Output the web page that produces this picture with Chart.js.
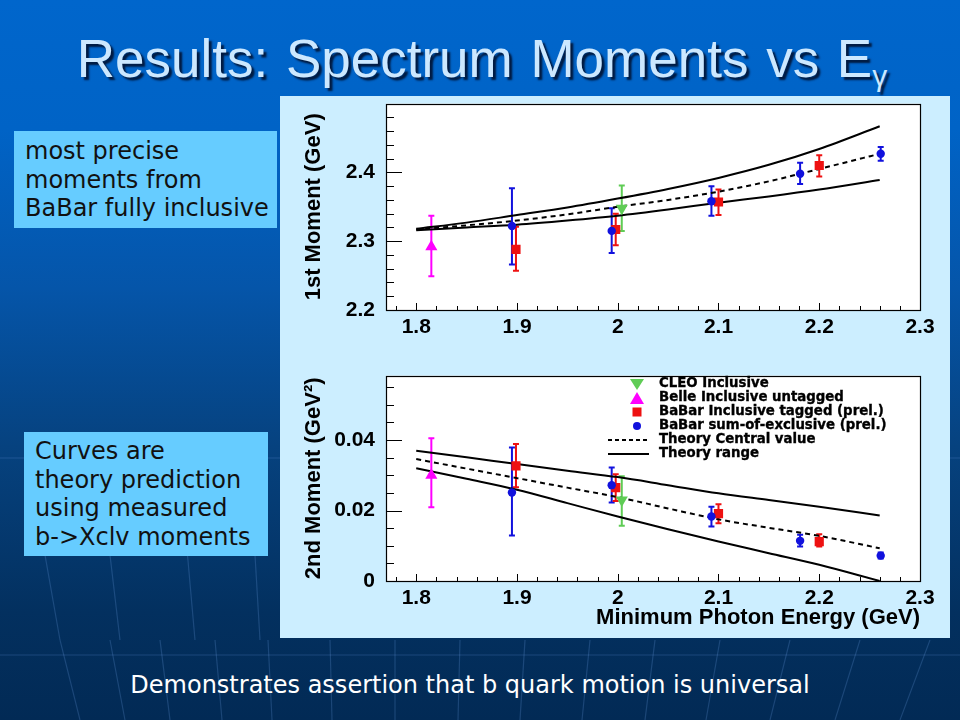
<!DOCTYPE html>
<html>
<head>
<meta charset="utf-8">
<script src="https://cdn.jsdelivr.net/npm/chart.js@4.4.1/dist/chart.umd.min.js"></script>
<style>
  html, body { margin:0; padding:0; }
  body { width:960px; height:720px; overflow:hidden; position:relative;
    background: linear-gradient(to bottom, #0066cc 0%, #0063c6 18%, #0555a9 40%, #06427f 62%, #03305f 85%, #022a55 100%);
    font-family: "Liberation Sans", Arial, sans-serif; }
  #bg { position:absolute; left:0; top:0; }
  #title { position:absolute; left:0; width:964px; top:28px; text-align:center; color:#cce8ff;
    font-family:"Liberation Sans", Arial, sans-serif; font-size:53px; white-space:nowrap; word-spacing:3px;
    text-shadow: 3px 3px 2px #001a40; }
  #title sub { font-size:30px; vertical-align:-9px; }
  #panel { position:absolute; left:280px; top:96px; width:670px; height:542px; background:#cceeff; }
  .box { position:absolute; background:#66ccff; color:#111; font-family:"DejaVu Sans", Verdana, sans-serif;
    font-size:24px; line-height:28.6px; white-space:nowrap; }
  #box1 { left:14px; top:131px; width:252px; height:97px; padding:0 0 0 11px; }
  #box1 div:first-child { margin-top:6px; }
  #box2 { left:24px; top:432px; width:233px; height:124px; padding:0 0 0 11px; }
  #box2 div:first-child { margin-top:5px; }
  #footer { position:absolute; left:0; width:940px; top:671px; text-align:center; color:#ffffff;
    font-family:"DejaVu Sans", Verdana, sans-serif; font-size:24px; white-space:nowrap; }
  canvas { position:absolute; }
  #c1 { left:280px; top:80px; }
  #c2 { left:280px; top:352px; }
  #legend { position:absolute; left:600px; top:376px; font-family:"DejaVu Sans", sans-serif; font-weight:bold;
    font-size:13.3px; color:#000; -webkit-text-stroke:0.35px #000; }
  .lg { position:absolute; left:0; height:14px; width:300px; white-space:nowrap; }
  .lg svg { position:absolute; left:0; top:0; }
  .lg span { position:absolute; left:59px; top:-2px; line-height:16px; }
</style>
</head>
<body>
<svg id="bg" width="960" height="720">
  <g stroke="rgba(120,170,235,0.22)" stroke-width="1.2" fill="none">
    <line x1="0" y1="458" x2="960" y2="458"/>
    <line x1="0" y1="655" x2="960" y2="655"/>
    <line x1="60" y1="640" x2="80" y2="720"/>
    <line x1="110" y1="640" x2="125" y2="720"/>
    <line x1="160" y1="640" x2="170" y2="720"/>
    <line x1="215" y1="640" x2="222" y2="720"/>
    <line x1="268" y1="640" x2="272" y2="720"/>
    <line x1="330" y1="640" x2="332" y2="720"/>
    <line x1="395" y1="640" x2="395" y2="720"/>
    <line x1="460" y1="640" x2="458" y2="720"/>
    <line x1="525" y1="640" x2="520" y2="720"/>
    <line x1="590" y1="640" x2="582" y2="720"/>
    <line x1="655" y1="640" x2="645" y2="720"/>
    <line x1="720" y1="640" x2="706" y2="720"/>
    <line x1="790" y1="640" x2="770" y2="720"/>
    <line x1="860" y1="640" x2="835" y2="720"/>
    <line x1="930" y1="640" x2="900" y2="720"/>
    <line x1="30" y1="470" x2="60" y2="640"/>
    <line x1="100" y1="470" x2="120" y2="640"/>
    <line x1="180" y1="470" x2="195" y2="640"/>
    <line x1="250" y1="470" x2="260" y2="640"/>
  </g>
</svg>
<div id="title">Results: Spectrum Moments vs E<sub>γ</sub></div>
<div id="panel"></div>
<div class="box" id="box1"><div>most precise</div><div>moments from</div><div>BaBar fully inclusive</div></div>
<div class="box" id="box2"><div>Curves are</div><div>theory prediction</div><div>using measured</div><div>b-&gt;Xclv moments</div></div>
<div id="footer">Demonstrates assertion that b quark motion is universal</div>
<canvas id="c1" width="670" height="270"></canvas>
<canvas id="c2" width="670" height="286"></canvas>
<div id="legend">
  <div class="lg" style="top:1px"><svg width="60" height="14"><polygon points="30,2 44,2 37,13" fill="#5fcc55"/></svg><span>CLEO Inclusive</span></div>
  <div class="lg" style="top:15px"><svg width="60" height="14"><polygon points="37,1 44,13 30,13" fill="#ff00ff"/></svg><span>Belle Inclusive untagged</span></div>
  <div class="lg" style="top:29px"><svg width="60" height="14"><rect x="32.5" y="2.5" width="9" height="9" fill="#ee1111"/></svg><span>BaBar Inclusive tagged (prel.)</span></div>
  <div class="lg" style="top:43px"><svg width="60" height="14"><circle cx="37" cy="7" r="4" fill="#1111dd"/></svg><span>BaBar sum-of-exclusive (prel.)</span></div>
  <div class="lg" style="top:57px"><svg width="60" height="14"><line x1="8" y1="7" x2="49" y2="7" stroke="#000" stroke-width="2" stroke-dasharray="4,3"/></svg><span>Theory Central value</span></div>
  <div class="lg" style="top:71px"><svg width="60" height="14"><line x1="8" y1="7" x2="49" y2="7" stroke="#000" stroke-width="2"/></svg><span>Theory range</span></div>
</div>
<script>
// ---------- data ----------
const xTickValues = [1.8, 1.9, 2.0, 2.1, 2.2, 2.3];
const xTickLabels = ['1.8', '1.9', '2', '2.1', '2.2', '2.3'];
const xMinorTicks = [1.78, 1.82, 1.84, 1.86, 1.88, 1.92, 1.94, 1.96, 1.98, 2.02, 2.04, 2.06, 2.08, 2.12, 2.14, 2.16, 2.18, 2.22, 2.24, 2.26, 2.28];

const m1TickValues = [2.2, 2.3, 2.4];
const m1TickLabels = ['2.2', '2.3', '2.4'];
const m1MinorTicks = [2.22, 2.24, 2.26, 2.28, 2.32, 2.34, 2.36, 2.38, 2.42, 2.44, 2.46, 2.48];

const m2TickValues = [0, 0.02, 0.04];
const m2TickLabels = ['0', '0.02', '0.04'];
const m2MinorTicks = [0.005, 0.01, 0.015, 0.025, 0.03, 0.035, 0.045, 0.05, 0.055];

// theory curves
const theoryE = [1.80, 1.85, 1.90, 1.95, 2.00, 2.05, 2.10, 2.15, 2.20, 2.26];
const m1TheoryCentral = [2.317, 2.323, 2.330, 2.339, 2.350, 2.360, 2.372, 2.387, 2.405, 2.427];
const m1TheoryHigh    = [2.318, 2.327, 2.338, 2.349, 2.362, 2.376, 2.392, 2.411, 2.434, 2.467];
const m1TheoryLow     = [2.316, 2.320, 2.324, 2.330, 2.337, 2.346, 2.356, 2.365, 2.375, 2.389];
const m2TheoryCentral = [0.0346, 0.0319, 0.0292, 0.0265, 0.0238, 0.0206, 0.0175, 0.0151, 0.0128, 0.0093];
const m2TheoryHigh    = [0.0370, 0.0351, 0.0332, 0.0313, 0.0295, 0.0272, 0.0249, 0.0230, 0.0211, 0.0186];
const m2TheoryLow     = [0.0320, 0.0290, 0.0259, 0.0221, 0.0183, 0.0147, 0.0112, 0.0079, 0.0046, 0.0000];

// CLEO inclusive
const cleoE = [2.004];
const cleoM1 = [2.348], cleoM1Hi = [2.381], cleoM1Lo = [2.315];
const cleoM2 = [0.0230], cleoM2Hi = [0.0297], cleoM2Lo = [0.0157];
// Belle inclusive untagged
const belleE = [1.815];
const belleM1 = [2.292], belleM1Hi = [2.337], belleM1Lo = [2.249];
const belleM2 = [0.0300], belleM2Hi = [0.0405], belleM2Lo = [0.0209];
// BaBar inclusive tagged (prel.)
const tagE = [1.899, 1.998, 2.100, 2.200];
const tagM1 = [2.288, 2.317, 2.357, 2.410], tagM1Hi = [2.321, 2.340, 2.375, 2.425], tagM1Lo = [2.257, 2.294, 2.338, 2.394];
const tagM2 = [0.0327, 0.0265, 0.0191, 0.0112], tagM2Hi = [0.0389, 0.0303, 0.0218, 0.0133], tagM2Lo = [0.0266, 0.0227, 0.0164, 0.0098];
// BaBar sum-of-exclusive (prel.)
const sumE = [1.895, 1.994, 2.093, 2.181, 2.261];
const sumM1 = [2.322, 2.315, 2.358, 2.398, 2.427], sumM1Hi = [2.377, 2.348, 2.380, 2.414, 2.437], sumM1Lo = [2.266, 2.283, 2.337, 2.383, 2.417];
const sumM2 = [0.0251, 0.0272, 0.0183, 0.0114, 0.0072], sumM2Hi = [0.0379, 0.0322, 0.0211, 0.0131, 0.0081], sumM2Lo = [0.0129, 0.0223, 0.0155, 0.0098, 0.0064];

// ---------- helpers ----------
const pts = (xs, ys) => xs.map((x, i) => ({ x: x, y: ys[i] }));
const FONT = '"Liberation Sans", Arial, sans-serif';
const C_CLEO = '#5fcc55', C_BELLE = '#ff00ff', C_TAG = '#ee1111', C_SUM = '#1111dd';

const rootFrame = {
  id: 'rootFrame',
  beforeDraw(chart) {
    const a = chart.chartArea, ctx = chart.ctx;
    ctx.save(); ctx.fillStyle = '#ffffff'; ctx.fillRect(a.left, a.top, a.right - a.left, a.bottom - a.top); ctx.restore();
  },
  afterDraw(chart) {
    const a = chart.chartArea, ctx = chart.ctx, o = chart.options.plugins.rootFrame;
    const xs = chart.scales.x, ys = chart.scales.y;
    ctx.save();
    ctx.strokeStyle = '#000'; ctx.lineWidth = 1;
    ctx.beginPath();
    o.yMajor.forEach(v => { const p = Math.round(ys.getPixelForValue(v)) + 0.5; ctx.moveTo(a.left, p); ctx.lineTo(a.left + 16, p); });
    o.yMinor.forEach(v => { const p = Math.round(ys.getPixelForValue(v)) + 0.5; ctx.moveTo(a.left, p); ctx.lineTo(a.left + 8, p); });
    o.xMajor.forEach(v => { const p = Math.round(xs.getPixelForValue(v)) + 0.5; ctx.moveTo(p, a.bottom); ctx.lineTo(p, a.bottom - 7); });
    o.xMinor.forEach(v => { const p = Math.round(xs.getPixelForValue(v)) + 0.5; ctx.moveTo(p, a.bottom); ctx.lineTo(p, a.bottom - 4); });
    ctx.stroke();
    ctx.lineWidth = 1.2;
    ctx.strokeRect(Math.round(a.left) + 0.5, Math.round(a.top) + 0.5, Math.round(a.right - a.left), Math.round(a.bottom - a.top));
    ctx.restore();
  }
};

const errorBars = {
  id: 'errorBars',
  beforeDatasetsDraw(chart) {
    const ctx = chart.ctx, xs = chart.scales.x, ys = chart.scales.y;
    ctx.save();
    chart.data.datasets.forEach(ds => {
      if (!ds.errHi) return;
      ctx.strokeStyle = ds.backgroundColor; ctx.lineWidth = 2;
      ds.data.forEach((p, i) => {
        const x = xs.getPixelForValue(p.x);
        const yh = ys.getPixelForValue(ds.errHi[i]), yl = ys.getPixelForValue(ds.errLo[i]);
        ctx.beginPath();
        ctx.moveTo(x, yh); ctx.lineTo(x, yl);
        ctx.moveTo(x - 3, yh); ctx.lineTo(x + 3, yh);
        ctx.moveTo(x - 3, yl); ctx.lineTo(x + 3, yl);
        ctx.stroke();
      });
    });
    ctx.restore();
  }
};

function theoryDs(ys, dashed) {
  return { type: 'line', data: pts(theoryE, ys), borderColor: '#000', borderWidth: 2, borderDash: dashed ? [5, 4] : [],
    pointRadius: 0, fill: false, cubicInterpolationMode: 'monotone', order: 5 };
}
function markerDs(xs, ys, hi, lo, color, style, r, rot) {
  return { type: 'scatter', data: pts(xs, ys), errHi: hi, errLo: lo, backgroundColor: color, borderColor: color, borderWidth: 0,
    pointStyle: style, pointRadius: r, pointRotation: rot || 0, order: 1 };
}

function makeChart(id, cfg) {
  const tickFont = { family: FONT, size: 21, weight: 'bold' };
  return new Chart(document.getElementById(id), {
    data: { datasets: [
      theoryDs(cfg.high, false), theoryDs(cfg.low, false), theoryDs(cfg.central, true),
      markerDs(sumE, cfg.sum, cfg.sumHi, cfg.sumLo, C_SUM, 'circle', 4.2),
      markerDs(tagE, cfg.tag, cfg.tagHi, cfg.tagLo, C_TAG, 'rect', 6.5),
      markerDs(belleE, cfg.belle, cfg.belleHi, cfg.belleLo, C_BELLE, 'triangle', 7),
      markerDs(cleoE, cfg.cleo, cfg.cleoHi, cfg.cleoLo, C_CLEO, 'triangle', 7, 180)
    ] },
    options: {
      responsive: false, animation: false, events: [],
      layout: { padding: cfg.padding },
      plugins: { legend: { display: false }, tooltip: { enabled: false },
        rootFrame: { xMajor: xTickValues, xMinor: xMinorTicks, yMajor: cfg.yMajor, yMinor: cfg.yMinor } },
      scales: {
        x: { type: 'linear', min: 1.77, max: 2.3,
          afterBuildTicks: s => { s.ticks = xTickValues.map(v => ({ value: v })); },
          afterFit: s => { s.height = cfg.xAxisHeight; },
          grid: { display: false, drawTicks: false }, border: { display: false },
          ticks: { font: tickFont, color: '#000', padding: 5, maxRotation: 0, autoSkip: false,
            callback: (v, i) => xTickLabels[i] },
          title: cfg.xTitle ? { display: true, text: cfg.xTitle, align: 'end', color: '#000',
            font: { family: FONT, size: 22, weight: 'bold' }, padding: { top: 0, bottom: 7 } } : { display: false }
        },
        y: { type: 'linear', min: cfg.yMin, max: cfg.yMax,
          afterBuildTicks: s => { s.ticks = cfg.yMajor.map(v => ({ value: v })); },
          afterFit: s => { s.width = 106; },
          grid: { display: false, drawTicks: false }, border: { display: false },
          ticks: { font: tickFont, color: '#000', padding: 11, autoSkip: false,
            callback: (v, i) => cfg.yLabels[i] },
          title: { display: true, text: cfg.yTitle, color: '#000', font: { family: FONT, size: 22, weight: 'bold' },
            padding: { top: 21, bottom: 0 } }
        }
      }
    },
    plugins: [rootFrame, errorBars]
  });
}

makeChart('c1', {
  yMin: 2.2, yMax: 2.5, yMajor: m1TickValues, yMinor: m1MinorTicks, yLabels: m1TickLabels,
  yTitle: '1st Moment (GeV)', xTitle: null, xAxisHeight: 40,
  padding: { left: 0, right: 30, top: 23, bottom: 0 },
  high: m1TheoryHigh, low: m1TheoryLow, central: m1TheoryCentral,
  sum: sumM1, sumHi: sumM1Hi, sumLo: sumM1Lo,
  tag: tagM1, tagHi: tagM1Hi, tagLo: tagM1Lo,
  belle: belleM1, belleHi: belleM1Hi, belleLo: belleM1Lo,
  cleo: cleoM1, cleoHi: cleoM1Hi, cleoLo: cleoM1Lo
});

makeChart('c2', {
  yMin: 0, yMax: 0.0583, yMajor: m2TickValues, yMinor: m2MinorTicks, yLabels: m2TickLabels,
  yTitle: '2nd Moment (GeV²)', xTitle: 'Minimum Photon Energy (GeV)', xAxisHeight: 57,
  padding: { left: 0, right: 30, top: 22, bottom: 0 },
  high: m2TheoryHigh, low: m2TheoryLow, central: m2TheoryCentral,
  sum: sumM2, sumHi: sumM2Hi, sumLo: sumM2Lo,
  tag: tagM2, tagHi: tagM2Hi, tagLo: tagM2Lo,
  belle: belleM2, belleHi: belleM2Hi, belleLo: belleM2Lo,
  cleo: cleoM2, cleoHi: cleoM2Hi, cleoLo: cleoM2Lo
});
</script>
</body>
</html>
